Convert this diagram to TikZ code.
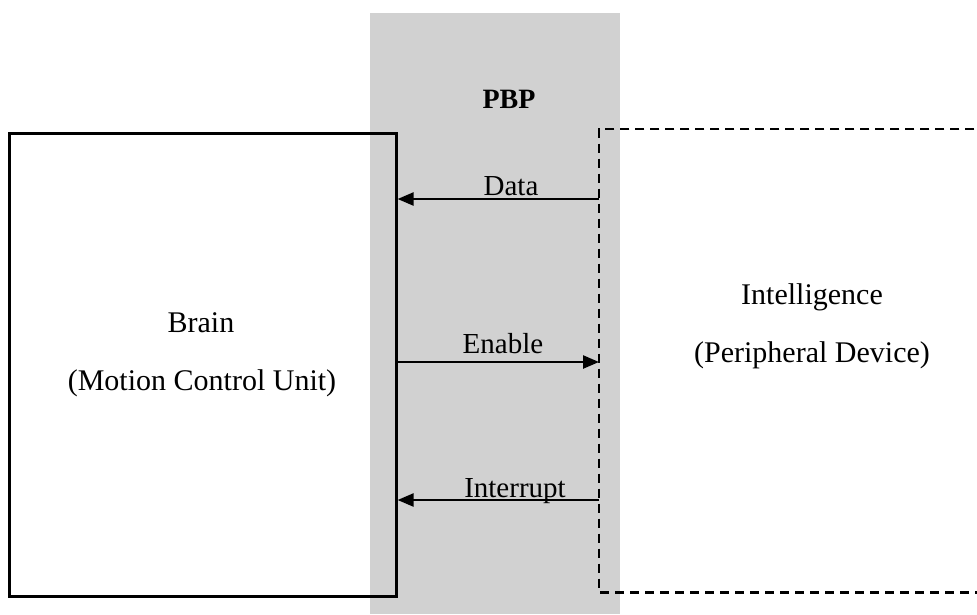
\documentclass[tikz,border=0pt]{standalone}
\usepackage{fontspec}
\setmainfont{Liberation Serif}
\usetikzlibrary{arrows.meta}
\begin{document}
\begin{tikzpicture}[x=1pt,y=-1pt,
  txt/.style={font=\fontsize{30}{36}\selectfont, inner sep=0pt, anchor=base},
  lbl/.style={font=\fontsize{29}{34}\selectfont, inner sep=0pt, anchor=base},
  solidbox/.style={draw=black, line width=2.6pt, minimum width=387pt, minimum height=463pt, anchor=north west, inner sep=0pt},
  dashbox/.style={minimum width=390pt, minimum height=463pt, anchor=north west, inner sep=0pt},
  dashline/.style={draw=black, line width=2.8pt, dash pattern=on 9pt off 6pt},
  arr/.style={draw=black, line width=2.4pt, -{Triangle[length=16pt,width=13pt]}},
  band/.style={fill=black!18, minimum width=250pt, minimum height=601pt, anchor=north west, inner sep=0pt}
]
\useasboundingbox (0,0) rectangle (977,614);
% gray PBP band
\node[band] (pbp) at (370,13) {};
\node[lbl, font=\bfseries\fontsize{28}{34}\selectfont] (pbplbl) at (509,108) {PBP};
% left box
\node[solidbox] (brain) at (8,132) {};
\node[txt] (brainA) at (201,332) {Brain};
\node[txt] (brainB) at (202,390) {(Motion Control Unit)};
% right dashed box
\node[dashbox] (intel) at (599,129) {};
\draw[dashline] (intel.north east) -- (intel.north west) -- (intel.south west) -- (intel.south east);
\node[txt] (intelA) at (812,304) {Intelligence};
\node[txt] (intelB) at (812,362) {(Peripheral Device)};
% arrow levels
\coordinate (ydata) at (0,199);
\coordinate (yen) at (0,362);
\coordinate (yint) at (0,500);
\draw[arr] (intel.west |- ydata) -- (brain.east |- ydata);
\node[lbl] (datalbl) at (511,195) {Data};
\draw[arr] (brain.east |- yen) -- (intel.west |- yen);
\node[lbl] (enlbl) at (503,353) {Enable};
\draw[arr] (intel.west |- yint) -- (brain.east |- yint);
\node[lbl] (intlbl) at (515,497) {Interrupt};
\end{tikzpicture}
\end{document}
